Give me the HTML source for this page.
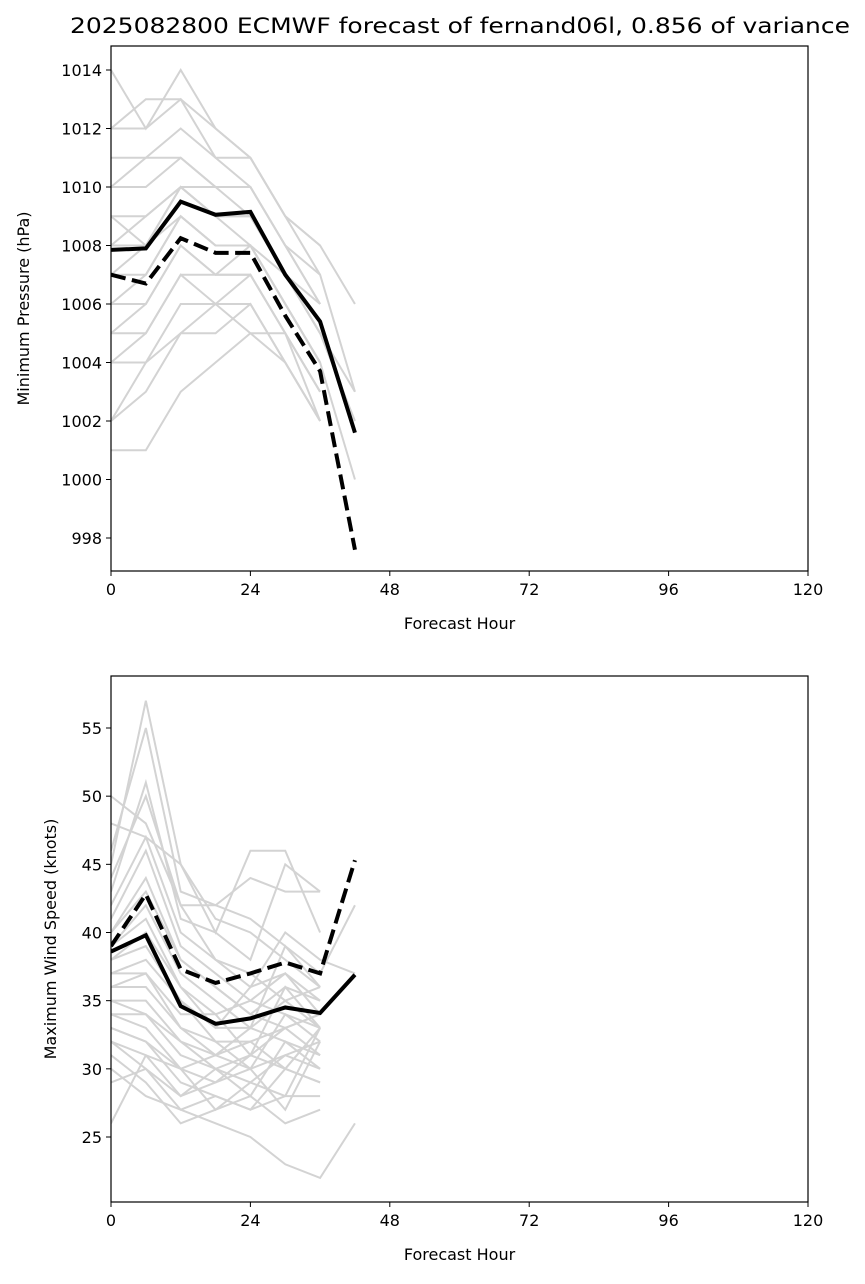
<!DOCTYPE html>
<html><head><meta charset="utf-8"><style>
body{margin:0;background:#fff;font-family:"Liberation Sans","DejaVu Sans",sans-serif}
svg text{font-family:"DejaVu Sans","Liberation Sans",sans-serif;fill:#000}
</style></head><body>
<svg id="c" width="865" height="1279" xmlns="http://www.w3.org/2000/svg"></svg>
<script>
const hours=[0,6,12,18,24,30,36,42];
const xTicks=[0,24,48,72,96,120];
const pTicks=[998,1000,1002,1004,1006,1008,1010,1012,1014];
const wTicks=[25,30,35,40,45,50,55];
const pMean=[1007.85,1007.9,1009.5,1009.05,1009.15,1007.0,1005.4,1001.6];
const pDash=[1007.0,1006.7,1008.25,1007.75,1007.75,1005.6,1003.7,997.6];
const wMean=[38.6,39.8,34.6,33.3,33.7,34.5,34.1,36.9];
const wDash=[39.0,42.8,37.3,36.3,37.0,37.8,37.0,45.3];
const pMembers=[
[1014,1012,1014,1012,1011,1009,1008,1006],[1012,1013,1013,1012,1011,1009,1008],[1012,1012,1013,1011,1011,1009,1007],
[1011,1011,1012,1011,1010,1008,1007,1003],[1010,1011,1011,1010,1010,1008,1006],[1010,1010,1011,1010,1010,1008,1006],
[1009,1009,1010,1010,1009,1007,1006],[1009,1008,1010,1009,1009,1007,1005,1003],[1008,1009,1010,1009,1009,1007,1005],
[1008,1008,1010,1009,1008,1007,1005,1002],[1007,1008,1009,1008,1008,1006,1004],[1007,1007,1009,1008,1008,1006,1004,1000],
[1006,1007,1009,1008,1008,1006,1004],[1006,1006,1008,1007,1008,1006,1004],[1005,1006,1008,1007,1007,1005,1003],
[1005,1005,1007,1007,1007,1005,1003],[1004,1005,1007,1006,1007,1005,1003],[1004,1004,1006,1006,1006,1004,1002],
[1002,1003,1005,1005,1006,1004,1002],[1002,1004,1005,1006,1005,1004,1002],[1001,1001,1003,1004,1005,1005,1002]];
const wMembers=[
[50,48,42,38,37,35,33],[48,47,45,41,40,38,36],[46,55,43,42,41,39,37,42],[45,57,45,40,46,46,40],
[44,50,42,42,44,43,43],[43,51,41,40,38,45,43],[42,47,40,38,36,40,38,37],[41,46,39,37,35,37,34],
[40,44,38,36,34,36,35],[40,43,38,36,34,33,34],[39,42,37,35,33,39,36],[39,41,36,34,35,34,33],
[38,40,36,33,33,35,36],[38,39,35,33,36,37,35],[37,38,35,32,32,33,34],[37,37,34,34,31,36,33],
[36,37,33,32,30,34,32],[36,36,33,31,33,32,31],[35,35,32,31,30,31,30],[35,34,32,30,29,31,32],
[34,34,31,30,28,32,30],[34,33,30,29,31,30,29],[33,32,29,28,27,30,29],[33,32,30,27,29,28,28],
[32,31,28,29,30,27,32],[32,30,27,28,27,28,33],[31,29,26,27,28,26,27],[30,28,27,26,25,23,22,26],
[29,30,28,30,31,33,31],[26,31,30,31,32,30,33]];

const NS="http://www.w3.org/2000/svg",svg=document.getElementById('c');
function el(t,a,p){const e=document.createElementNS(NS,t);for(const k in a)e.setAttribute(k,a[k]);(p||svg).appendChild(e);return e;}
const L=111,R=808;
const xs=h=>L+(h/120)*(R-L);
function panel(top,bot,y0,v0,y1,v1,ticks,members,mean,dash,ylab,name,ylx){
  const ys=v=>y0+(v-v0)*(y1-y0)/(v1-v0);
  const g=el('g',{});
  
  
  const pts=a=>a.map((v,i)=>xs(hours[i])+','+ys(v)).join(' ');
  const clip=el('clipPath',{id:name+'-clip'},g);el('rect',{x:L,y:top,width:R-L,height:bot-top},clip);
  const pg=el('g',{'clip-path':'url(#'+name+'-clip)'},g);
  members.forEach((m,i)=>{const l=el('polyline',{points:pts(m),fill:'none',stroke:'#d3d3d3','stroke-width':2},pg);
    
    });
  const m=el('polyline',{points:pts(mean),fill:'none',stroke:'#000','stroke-width':4},pg);
  
  
  const d=el('polyline',{points:pts(dash),fill:'none',stroke:'#000','stroke-width':4,'stroke-dasharray':'15,6.5'},pg);
  
  
  el('rect',{x:L,y:top,width:R-L,height:bot-top,fill:'none',stroke:'#000','stroke-width':1.2},g);
  xTicks.forEach(t=>{el('line',{x1:xs(t),x2:xs(t),y1:bot,y2:bot+5,stroke:'#000'},g);
    const tx=el('text',{x:xs(t),y:bot+24,'text-anchor':'middle','font-size':16},g);tx.textContent=t;
    
    });
  ticks.forEach(t=>{el('line',{x1:L-5,x2:L,y1:ys(t),y2:ys(t),stroke:'#000'},g);
    const tx=el('text',{x:L-9,y:ys(t)+6,'text-anchor':'end','font-size':16},g);tx.textContent=t;
    
    });
  const xl=el('text',{x:(L+R)/2,y:bot+58,'text-anchor':'middle','font-size':16},g);xl.textContent='Forecast Hour';
  
  
  const yl=el('text',{x:0,y:0,'text-anchor':'middle','font-size':16,transform:`translate(${ylx},${(top+bot)/2}) rotate(-90)`},g);yl.textContent=ylab;
  
  
}
const title=el('text',{x:460,y:33,'text-anchor':'middle','font-size':21,textLength:780,lengthAdjust:'spacingAndGlyphs'});
title.textContent='2025082800 ECMWF forecast of fernand06l, 0.856 of variance';


panel(46,571,70,1014,538,998,pTicks,pMembers,pMean,pDash,'Minimum Pressure (hPa)','pressure-panel',29);
panel(676,1202,728,55,1137,25,wTicks,wMembers,wMean,wDash,'Maximum Wind Speed (knots)','wind-panel',56);
</script></body></html>
